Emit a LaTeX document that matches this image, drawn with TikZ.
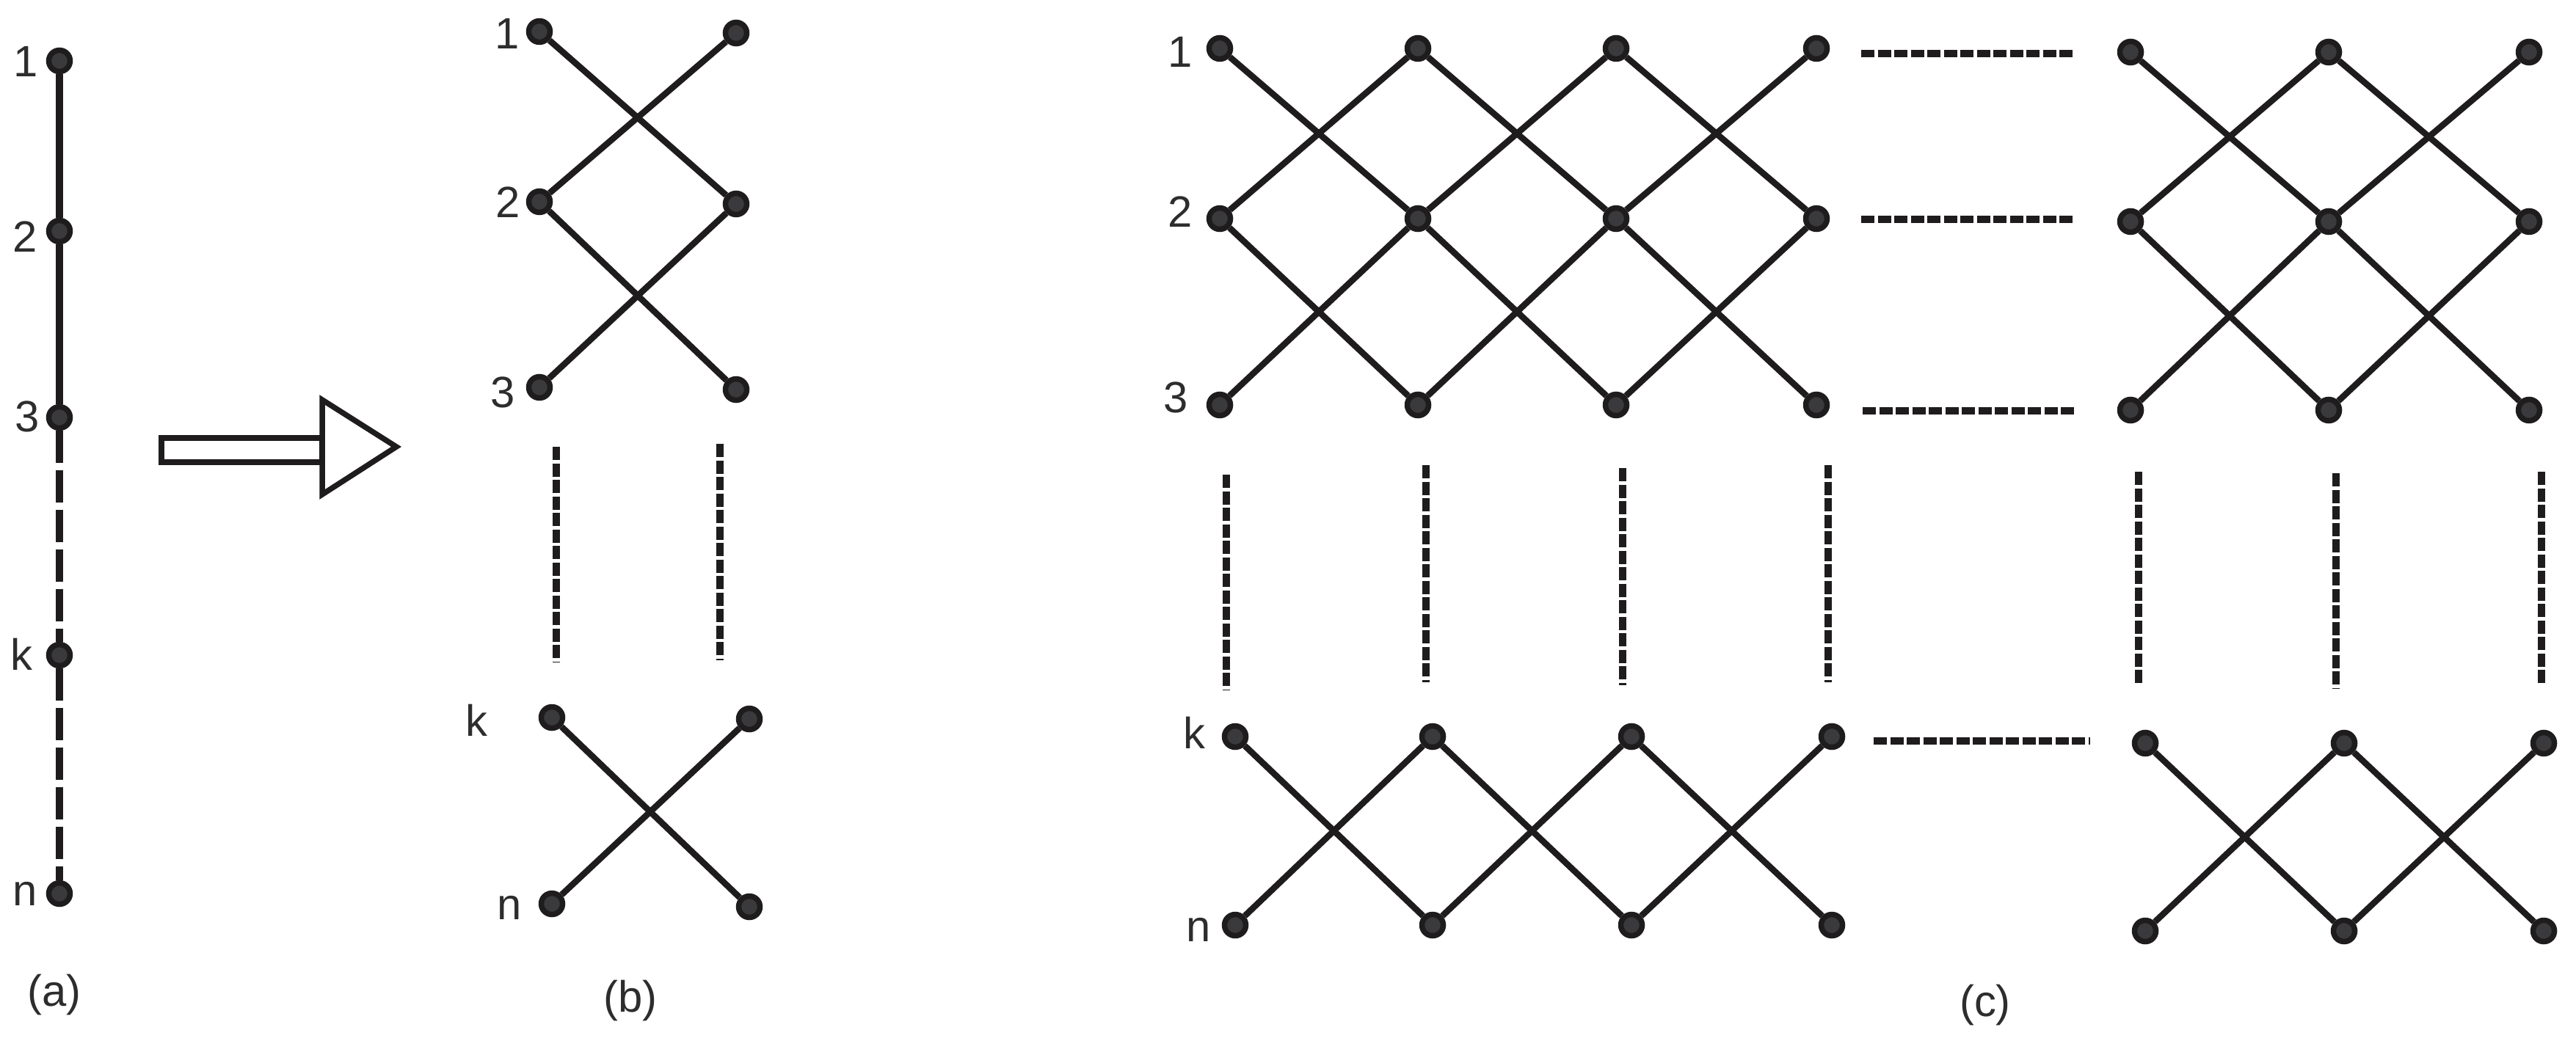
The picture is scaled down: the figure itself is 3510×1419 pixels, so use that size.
\documentclass[tikz,border=0pt]{standalone}
\usepackage{fontspec}
\setmainfont{Liberation Sans}
\definecolor{lineblack}{RGB}{30,28,29}
\definecolor{dotfill}{RGB}{58,58,60}
\definecolor{labelgray}{RGB}{45,45,45}
\tikzset{
  dot/.style={circle, inner sep=0pt, minimum size=0.29cm, fill=dotfill, draw=lineblack, line width=0.075cm},
  wire/.style={draw=lineblack, line width=0.085cm},
  fined/.style={draw=lineblack, line width=0.095cm, dash pattern=on 0.18cm off 0.045cm},
  longd/.style={draw=lineblack, line width=0.09cm, dash pattern=on 0.44cm off 0.10cm},
  solidv/.style={draw=lineblack, line width=0.09cm},
  bigarrow/.style={draw=lineblack, line width=0.075cm, line join=miter},
  lbl/.style={anchor=base, text=labelgray, font=\fontsize{17pt}{20pt}\selectfont, inner sep=0pt},
}
\begin{document}
\begin{tikzpicture}[x=0.01cm, y=-0.01cm]
\useasboundingbox (0,0) rectangle (3510,1419);

% ---------------- (a) ----------------
\node[dot] (a1) at (81,83) {};
\node[dot] (a2) at (81,315) {};
\node[dot] (a3) at (81,569) {};
\node[dot] (ak) at (81,893) {};
\node[dot] (an) at (81,1218) {};
\draw[solidv] (a1) -- (a2);
\draw[solidv] (a2) -- (a3);
\draw[longd] (a3) -- (ak);
\draw[longd] (ak) -- (an);
\node[lbl] (la1) at (35,105) {1};
\node[lbl] (la2) at (34,344) {2};
\node[lbl] (la3) at (37,589) {3};
\node[lbl] (lak) at (29,913) {k};
\node[lbl] (lan) at (34,1234) {n};
\node[lbl] (capa) at (74,1371) {(a)};

% ---------------- arrow ----------------
\draw[bigarrow] (220,597) rectangle (439,630);
\draw[bigarrow] (439,545) -- (540,609) -- (439,674) -- cycle;

% ---------------- (b) ----------------
\node[dot] (b11) at (735,43) {};
\node[dot] (b21) at (1003,45) {};
\node[dot] (b12) at (735,275) {};
\node[dot] (b22) at (1003,278) {};
\node[dot] (b13) at (735,528) {};
\node[dot] (b23) at (1003,531) {};
\node[dot] (bk1) at (752,978) {};
\node[dot] (bk2) at (1021,980) {};
\node[dot] (bn1) at (752,1232) {};
\node[dot] (bn2) at (1021,1236) {};
\draw[wire] (b11) -- (b22);
\draw[wire] (b21) -- (b12);
\draw[wire] (b12) -- (b23);
\draw[wire] (b22) -- (b13);
\draw[wire] (bk1) -- (bn2);
\draw[wire] (bk2) -- (bn1);
\draw[fined] (758,609) -- (758,902);
\draw[fined] (981,605) -- (981,900);
\node[lbl] (lb1) at (691,67) {1};
\node[lbl] (lb2) at (692,297) {2};
\node[lbl] (lb3) at (685,556) {3};
\node[lbl] (lbk) at (649,1003) {k};
\node[lbl] (lbn) at (694,1253) {n};
\node[lbl] (capb) at (859,1379) {(b)};

% ---------------- (c) top-left group ----------------
\foreach \x [count=\i] in {1662,1932,2202,2475} {
  \foreach \y [count=\j] in {66,298,552} {
    \node[dot] (A\i\j) at (\x,\y) {};
  }
}
\foreach \i/\k in {1/2,2/3,3/4} {
  \draw[wire] (A\i1) -- (A\k2);
  \draw[wire] (A\i2) -- (A\k1);
  \draw[wire] (A\i2) -- (A\k3);
  \draw[wire] (A\i3) -- (A\k2);
}
% (c) top-right group
\foreach \x [count=\i] in {2903,3173,3446} {
  \foreach \y [count=\j] in {71,302,559} {
    \node[dot] (B\i\j) at (\x,\y) {};
  }
}
\foreach \i/\k in {1/2,2/3} {
  \draw[wire] (B\i1) -- (B\k2);
  \draw[wire] (B\i2) -- (B\k1);
  \draw[wire] (B\i2) -- (B\k3);
  \draw[wire] (B\i3) -- (B\k2);
}
% (c) bottom-left group
\foreach \x [count=\i] in {1683,1952,2223,2496} {
  \node[dot] (C\i k) at (\x,1004) {};
  \node[dot] (C\i n) at (\x,1261) {};
}
\foreach \i/\k in {1/2,2/3,3/4} {
  \draw[wire] (C\i k) -- (C\k n);
  \draw[wire] (C\i n) -- (C\k k);
}
% (c) bottom-right group
\foreach \x [count=\i] in {2923,3194,3466} {
  \node[dot] (D\i k) at (\x,1013) {};
  \node[dot] (D\i n) at (\x,1269) {};
}
\foreach \i/\k in {1/2,2/3} {
  \draw[wire] (D\i k) -- (D\k n);
  \draw[wire] (D\i n) -- (D\k k);
}
% (c) horizontal dashes
\draw[fined] (2536,73) -- (2828,73);
\draw[fined] (2536,299) -- (2828,299);
\draw[fined] (2538,560) -- (2830,560);
\draw[fined] (2553,1010) -- (2848,1010);
% (c) vertical dashes
\draw[fined] (1671,647) -- (1671,940);
\draw[fined] (1943,634) -- (1943,930);
\draw[fined] (2211,638) -- (2211,934);
\draw[fined] (2491,634) -- (2491,930);
\draw[fined] (2914,643) -- (2914,935);
\draw[fined] (3183,645) -- (3183,939);
\draw[fined] (3463,643) -- (3463,935);
% (c) labels
\node[lbl] (lc1) at (1608,92) {1};
\node[lbl] (lc2) at (1608,310) {2};
\node[lbl] (lc3) at (1602,563) {3};
\node[lbl] (lck) at (1627,1020) {k};
\node[lbl] (lcn) at (1633,1283) {n};
\node[lbl] (capc) at (2705,1385) {(c)};
\end{tikzpicture}
\end{document}
